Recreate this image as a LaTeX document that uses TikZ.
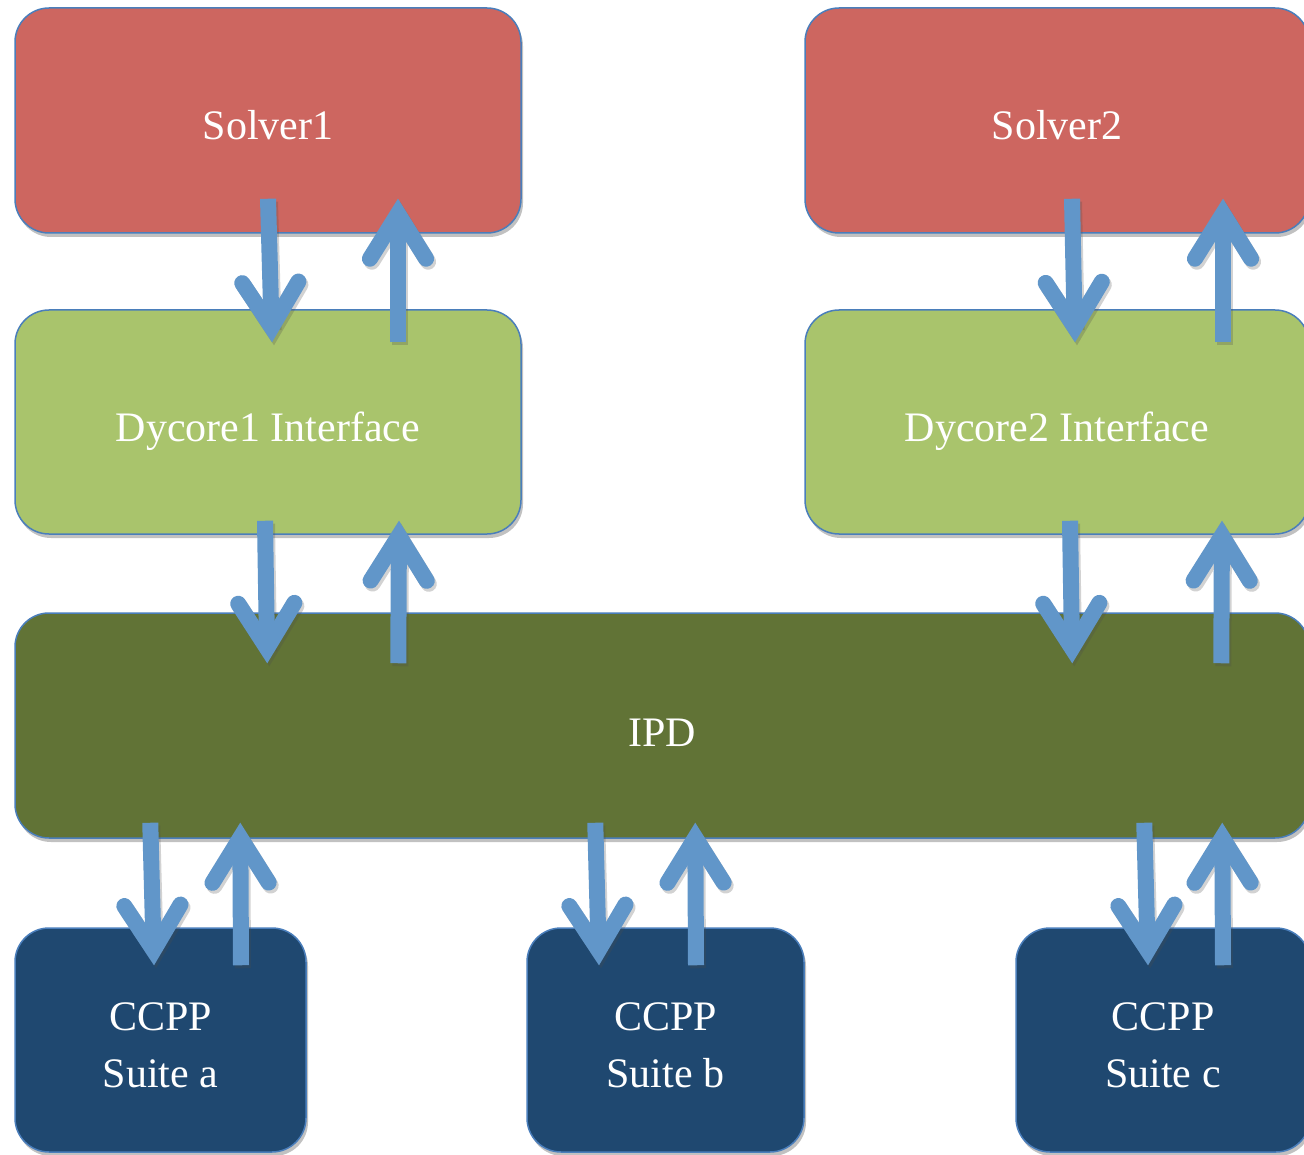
\documentclass[tikz,border=0pt]{standalone}
\usepackage{fontspec}
\setmainfont{Liberation Serif}
\usetikzlibrary{calc,shadows}
\definecolor{solverred}{HTML}{CD6660}
\definecolor{dycgreen}{HTML}{A9C46C}
\definecolor{ipdgreen}{HTML}{617336}
\definecolor{suiteblue}{HTML}{1F4870}
\definecolor{arrowblue}{HTML}{6196C9}
\definecolor{edgeblue}{HTML}{4A7EBB}
\tikzset{
  box/.style={draw=edgeblue, line width=1.5pt, rounded corners=34pt, inner sep=0pt,
    text=white, align=center, font=\fontsize{42}{57}\selectfont,
    drop shadow={shadow xshift=2pt, shadow yshift=-4pt, opacity=.35, fill=black!70}},
  flowshaft/.style={draw=arrowblue, line width=16pt, line cap=butt},
  flowhead/.style={draw=arrowblue, line width=16pt, line cap=round, line join=miter},
  flowshadow/.style={draw=black!70, opacity=.25, line width=16pt, transform canvas={shift={(2pt,-3pt)}}},
}
\newcommand\lowtext[2]{\raisebox{-#1}[\height][\depth]{#2}}
\newcommand\flowarrow[2]{%
  \coordinate (fa-v) at ($(#2)!15pt!(#1)$);
  \draw[flowshadow, line cap=butt] (#1) -- (fa-v);
  \draw[flowshadow, line cap=round, line join=miter] ($(fa-v)!53pt!32:(#1)$) -- (fa-v) -- ($(fa-v)!53pt!-32:(#1)$);
  \draw[flowshaft] (#1) -- (fa-v);
  \draw[flowhead] ($(fa-v)!53pt!32:(#1)$) -- (fa-v) -- ($(fa-v)!53pt!-32:(#1)$);
}
\begin{document}
\begin{tikzpicture}[x=1pt,y=-1pt]
\useasboundingbox (0,0) rectangle (1304,1155);
% boxes
\node[box, fill=solverred, minimum width=506pt, minimum height=225pt] (s1) at (268,120.5) {\lowtext{5pt}{Solver1}};
\node[box, fill=solverred, minimum width=504pt, minimum height=225pt] (s2) at (1057,120.5) {\lowtext{5pt}{Solver2}};
\node[box, fill=dycgreen, minimum width=506pt, minimum height=224pt] (d1) at (268,422) {\lowtext{9pt}{Dycore1 Interface}};
\node[box, fill=dycgreen, minimum width=504pt, minimum height=224pt] (d2) at (1057,422) {\lowtext{9pt}{Dycore2 Interface}};
\node[box, fill=ipdgreen, minimum width=1294pt, minimum height=225pt] (ipd) at (662,725.5) {\lowtext{7pt}{IPD}};
\node[box, fill=suiteblue, minimum width=291pt, minimum height=224pt] (sa) at (160.5,1040) {\lowtext{8pt}{\begin{tabular}{@{}c@{}}CCPP\\Suite a\end{tabular}}};
\node[box, fill=suiteblue, minimum width=277pt, minimum height=224pt] (sb) at (665.5,1040) {\lowtext{8pt}{\begin{tabular}{@{}c@{}}CCPP\\Suite b\end{tabular}}};
\node[box, fill=suiteblue, minimum width=294pt, minimum height=224pt] (sc) at (1163,1040) {\lowtext{8pt}{\begin{tabular}{@{}c@{}}CCPP\\Suite c\end{tabular}}};
% arrow end points
\coordinate (a1s) at ($(s1.south)+(0,-35)$);
\coordinate (a1t) at ($(d1.north)+(4,33)$);
\coordinate (a2s) at ($(d1.north)+(130,33)$);
\coordinate (a2t) at ($(s1.south)+(130,-35)$);
\coordinate (a3s) at ($(s2.south)+(15,-35)$);
\coordinate (a3t) at ($(d2.north)+(18,33)$);
\coordinate (a4s) at ($(d2.north)+(166,33)$);
\coordinate (a4t) at ($(s2.south)+(166,-35)$);
\coordinate (a5s) at ($(d1.south)+(-3,-14)$);
\coordinate (a5t) at ($(ipd.north west)+(253,51)$);
\coordinate (a6s) at ($(ipd.north west)+(384,51)$);
\coordinate (a6t) at ($(d1.south)+(131,-14)$);
\coordinate (a7s) at ($(d2.south)+(13,-14)$);
\coordinate (a7t) at ($(ipd.north west)+(1058,51)$);
\coordinate (a8s) at ($(ipd.north west)+(1207,51)$);
\coordinate (a8t) at ($(d2.south)+(165,-14)$);
\coordinate (a9s) at ($(ipd.south west)+(136,-16)$);
\coordinate (a9t) at ($(sa.north)+(-6.5,38)$);
\coordinate (a10s) at ($(sa.north)+(80.5,38)$);
\coordinate (a10t) at ($(ipd.south west)+(226,-16)$);
\coordinate (a11s) at ($(ipd.south west)+(581,-16)$);
\coordinate (a11t) at ($(sb.north)+(-66.5,38)$);
\coordinate (a12s) at ($(sb.north)+(30.5,38)$);
\coordinate (a12t) at ($(ipd.south west)+(681,-16)$);
\coordinate (a13s) at ($(ipd.south west)+(1130,-16)$);
\coordinate (a13t) at ($(sc.north)+(-15,38)$);
\coordinate (a14s) at ($(sc.north)+(60,38)$);
\coordinate (a14t) at ($(ipd.south west)+(1208,-16)$);
% arrows
\flowarrow{a1s}{a1t}
\flowarrow{a2s}{a2t}
\flowarrow{a3s}{a3t}
\flowarrow{a4s}{a4t}
\flowarrow{a5s}{a5t}
\flowarrow{a6s}{a6t}
\flowarrow{a7s}{a7t}
\flowarrow{a8s}{a8t}
\flowarrow{a9s}{a9t}
\flowarrow{a10s}{a10t}
\flowarrow{a11s}{a11t}
\flowarrow{a12s}{a12t}
\flowarrow{a13s}{a13t}
\flowarrow{a14s}{a14t}
\end{tikzpicture}
\end{document}
